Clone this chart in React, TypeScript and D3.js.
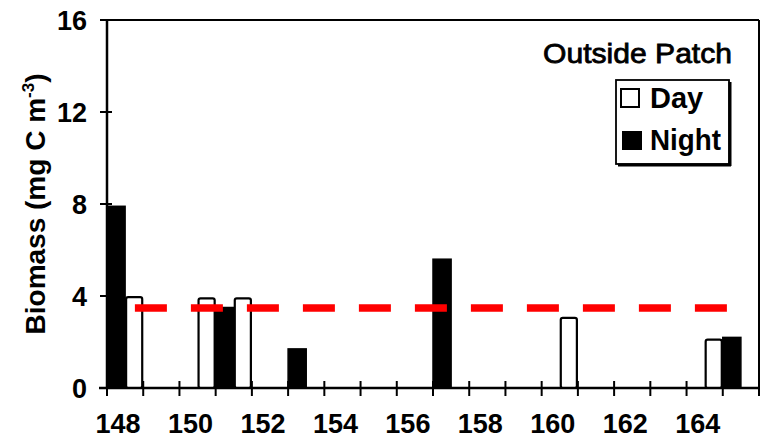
import React from "react";
import * as d3 from "d3";

const days = [148, 149, 150, 151, 152, 153, 154, 155, 156, 157, 158, 159, 160, 161, 162, 163, 164, 165];
const dayValues = [3.95, 0, 3.9, 3.9, 0, 0, 0, 0, 0, 0, 0, 0, 3.05, 0, 0, 0, 2.1, 0];
const nightValues = [7.9, 0, 0, 3.5, 0, 1.7, 0, 0, 0, 5.6, 0, 0, 0, 0, 0, 0, 0, 2.2];
const xTickLabels = [148, 150, 152, 154, 156, 158, 160, 162, 164];
const yTicks = [0, 4, 8, 12, 16];
const refLevel = 3.48;
const refStart = 148.77;
const refEnd = 165.12;
const legendTitle = "Outside Patch";
const seriesNames = ["Day", "Night"];

const W = 761;
const H = 442;
const FONT = "'Liberation Sans', Arial, Helvetica, sans-serif";

export default function App() {
  const x = d3.scaleLinear().domain([148, 166]).range([107, 759]);
  const y = d3.scaleLinear().domain([0, 16]).range([388, 20]);
  const bw = x(149) - x(148);
  const half = bw / 2;

  return (
    <svg width={W} height={H} style={{ position: "absolute", left: 0, top: 0, background: "#fff" }}>
      <rect width={W} height={H} fill="#fff" />
      {/* bars */}
      {days.map((d, i) => (
        <g key={d}>
          {nightValues[i] > 0 && (
            <rect x={x(d)} y={y(nightValues[i])} width={half} height={y(0) - y(nightValues[i])} fill="#000" stroke="#000" strokeWidth={1.5} />
          )}
          {dayValues[i] > 0 && (
            <rect x={x(d) + half + 1} y={y(dayValues[i])} width={half - 2} height={y(0) - y(dayValues[i])} fill="#fff" stroke="#000" strokeWidth={2.2} rx={2} />
          )}
        </g>
      ))}
      {/* reference line */}
      <line x1={x(refStart)} x2={x(refEnd)} y1={y(refLevel)} y2={y(refLevel)} stroke="#ff0000" strokeWidth={7.5} strokeDasharray="32 24" />
      {/* frame */}
      <line x1={x(148)} x2={x(166)} y1={y(16)} y2={y(16)} stroke="#000" strokeWidth={2} />
      <line x1={x(166)} x2={x(166)} y1={y(16)} y2={y(0)} stroke="#000" strokeWidth={2} />
      <line x1={x(148)} x2={x(148)} y1={y(16)} y2={y(0)} stroke="#000" strokeWidth={2.5} />
      <line x1={x(148) - 8} x2={x(166)} y1={y(0)} y2={y(0)} stroke="#000" strokeWidth={2.5} />
      {/* y ticks */}
      {yTicks.map((t) => (
        <g key={t}>
          <line x1={x(148) - 7} x2={x(148) + 5} y1={y(t)} y2={y(t)} stroke="#000" strokeWidth={2} />
          <text x={87} y={y(t) + 9.5} textAnchor="end" fontFamily={FONT} fontWeight="bold" fontSize={27} fill="#000">{t}</text>
        </g>
      ))}
      {/* x ticks */}
      {d3.range(148, 167).map((d) => (
        <line key={d} x1={x(d)} x2={x(d)} y1={y(0) - 7} y2={y(0) + 8} stroke="#000" strokeWidth={2} />
      ))}
      {xTickLabels.map((d) => (
        <text key={d} x={x(d) + half - 7} y={433} textAnchor="middle" fontFamily={FONT} fontWeight="bold" fontSize={27} fill="#000">{d}</text>
      ))}
      {/* y title */}
      <text transform={`translate(45, 204) rotate(-90)`} textAnchor="middle" fontFamily={FONT} fontWeight="bold" fontSize={28} fill="#000">
        Biomass (mg C m<tspan fontSize={17} dy={-11}>-3</tspan><tspan dy={11}>)</tspan>
      </text>
      {/* legend */}
      <text x={543} y={63} fontFamily={FONT} fontSize={28} fill="#000" stroke="#000" strokeWidth={0.8} textLength={189} lengthAdjust="spacingAndGlyphs">{legendTitle}</text>
      <rect x={616} y={80} width={113} height={84} fill="none" stroke="#000" strokeWidth={1.8} />
      <line x1={730} x2={730} y1={82} y2={166} stroke="#000" strokeWidth={3} />
      <line x1={618} x2={731} y1={165} y2={165} stroke="#000" strokeWidth={3} />
      <rect x={621} y={89} width={18} height={18} fill="#fff" stroke="#000" strokeWidth={2} />
      <text x={650} y={108} fontFamily={FONT} fontWeight="bold" fontSize={29} fill="#000">{seriesNames[0]}</text>
      <rect x={622} y={131} width={20} height={19} fill="#000" />
      <text x={650} y={150} fontFamily={FONT} fontWeight="bold" fontSize={29} fill="#000" textLength={71} lengthAdjust="spacingAndGlyphs">{seriesNames[1]}</text>
    </svg>
  );
}
